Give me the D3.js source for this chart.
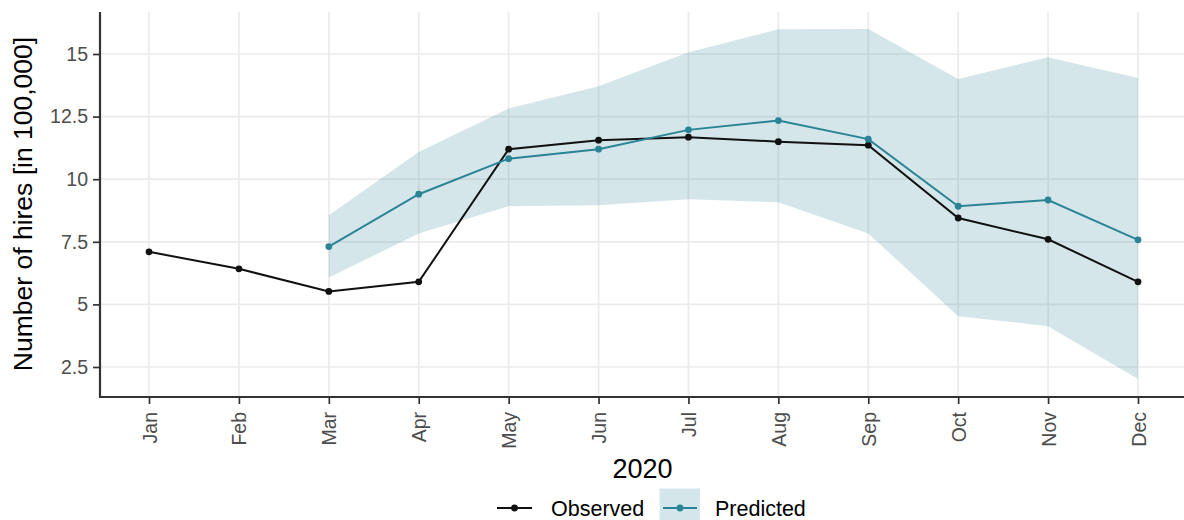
<!DOCTYPE html>
<html><head><meta charset="utf-8">
<script src="https://cdn.jsdelivr.net/npm/d3@7"></script>
<style>
html,body{margin:0;padding:0;background:#fff;}
svg{display:block;font-family:"Liberation Sans",Arial,sans-serif;}
</style></head>
<body><svg id="c" width="1184" height="520"></svg>
<script>
const months = ["Jan","Feb","Mar","Apr","May","Jun","Jul","Aug","Sep","Oct","Nov","Dec"];
const observed = [7.1, 6.42, 5.52, 5.9, 11.2, 11.56, 11.68, 11.5, 11.36, 8.45, 7.6, 5.9];
const predMonths = ["Mar","Apr","May","Jun","Jul","Aug","Sep","Oct","Nov","Dec"];
const predicted = [7.31, 9.4, 10.82, 11.2, 11.97, 12.34, 11.6, 8.92, 9.17, 7.58];
const predUpper = [8.56, 11.09, 12.82, 13.71, 15.07, 15.99, 16.0, 14.0, 14.87, 14.04];
const predLower = [6.07, 7.83, 8.92, 8.96, 9.2, 9.08, 7.83, 4.53, 4.13, 2.02];
const yTicks = [2.5, 5, 7.5, 10, 12.5, 15];
const yTickLabels = ["2.5","5","7.5","10","12.5","15"];
const xTitle = "2020";
const yTitle = "Number of hires [in 100,000]";
const seriesNames = ["Observed","Predicted"];

const lineCol = "#111111", tealCol = "#2a8495";
const svg = d3.select("#c");
const L = 100, R = 1184, T = 12, B = 397;

const x = d3.scalePoint().domain(months).range([149, 1138]);
const y = d3.scaleLinear().domain([1.302, 16.677]).range([B, T]);

// grid
const g = svg.append("g");
g.selectAll(".hg").data(yTicks).join("line")
  .attr("x1", L).attr("x2", R).attr("y1", d=>y(d)).attr("y2", d=>y(d))
  .attr("stroke", "#ebebeb").attr("stroke-width", 1.7);
g.selectAll(".vg").data(months).join("line")
  .attr("x1", d=>x(d)).attr("x2", d=>x(d)).attr("y1", T).attr("y2", B)
  .attr("stroke", "#ebebeb").attr("stroke-width", 1.7);

// band
const pred = predMonths.map((m,i)=>({m, v:predicted[i], lo:predLower[i], hi:predUpper[i]}));
svg.append("path").datum(pred)
  .attr("d", d3.area().x(d=>x(d.m)).y0(d=>y(d.lo)).y1(d=>y(d.hi)))
  .attr("fill", tealCol).attr("fill-opacity", 0.2);

// observed
const obs = months.map((m,i)=>({m, v:observed[i]}));
svg.append("path").datum(obs)
  .attr("d", d3.line().x(d=>x(d.m)).y(d=>y(d.v)))
  .attr("fill","none").attr("stroke", lineCol).attr("stroke-width", 2);
svg.selectAll(".op").data(obs).join("circle")
  .attr("cx", d=>x(d.m)).attr("cy", d=>y(d.v)).attr("r", 3.4).attr("fill", lineCol);

// predicted
svg.append("path").datum(pred)
  .attr("d", d3.line().x(d=>x(d.m)).y(d=>y(d.v)))
  .attr("fill","none").attr("stroke", tealCol).attr("stroke-width", 2);
svg.selectAll(".pp").data(pred).join("circle")
  .attr("cx", d=>x(d.m)).attr("cy", d=>y(d.v)).attr("r", 3.4).attr("fill", tealCol);

// axes
const yAxis = svg.append("g").attr("transform", `translate(${L},0)`)
  .call(d3.axisLeft(y).tickValues(yTicks).tickFormat((d,i)=>yTickLabels[i]).tickSize(7).tickPadding(5));
yAxis.select(".domain").remove();
yAxis.selectAll(".tick line").attr("stroke","#333").attr("stroke-width",1.7);
yAxis.selectAll(".tick text").attr("fill","#4d4d4d").attr("font-size","19.5px")
  .attr("font-family",'"Liberation Sans",Arial,sans-serif');
svg.append("line").attr("x1",L).attr("x2",L).attr("y1",T).attr("y2",B+1)
  .attr("stroke","#333").attr("stroke-width",2.2);

const xAxis = svg.append("g").attr("transform", `translate(0,${B})`)
  .call(d3.axisBottom(x).tickSize(7).tickPadding(4));
xAxis.select(".domain").remove();
xAxis.selectAll(".tick line").attr("stroke","#333").attr("stroke-width",1.7);
xAxis.selectAll(".tick text").attr("fill","#4d4d4d").attr("font-size","19.5px")
  .attr("font-family",'"Liberation Sans",Arial,sans-serif')
  .attr("transform","rotate(-90)").attr("text-anchor","end")
  .attr("x",-15).attr("y",0).attr("dy","0.36em");
svg.append("line").attr("x1",L-1).attr("x2",R).attr("y1",B).attr("y2",B)
  .attr("stroke","#333").attr("stroke-width",2.2);

// titles
svg.append("text").attr("x",642.5).attr("y",478).attr("text-anchor","middle")
  .attr("font-size","27px").attr("fill","#000").text(xTitle);
svg.append("text").attr("transform","translate(32,204) rotate(-90)").attr("text-anchor","middle")
  .attr("font-size","26.5px").attr("fill","#000").text(yTitle);

// legend
const lg = svg.append("g");
lg.append("line").attr("x1",497).attr("x2",532).attr("y1",508).attr("y2",508)
  .attr("stroke",lineCol).attr("stroke-width",2);
lg.append("circle").attr("cx",514.5).attr("cy",508).attr("r",3.4).attr("fill",lineCol);
lg.append("text").attr("x",551).attr("y",516).attr("font-size","21.5px").attr("fill","#000").text(seriesNames[0]);
lg.append("rect").attr("x",659.5).attr("y",488.5).attr("width",40.5).attr("height",40)
  .attr("fill",tealCol).attr("fill-opacity",0.2);
lg.append("line").attr("x1",663).attr("x2",697).attr("y1",508).attr("y2",508)
  .attr("stroke",tealCol).attr("stroke-width",2);
lg.append("circle").attr("cx",680).attr("cy",508).attr("r",3.4).attr("fill",tealCol);
lg.append("text").attr("x",715).attr("y",516).attr("font-size","21.5px").attr("fill","#000").text(seriesNames[1]);
</script></body></html>
